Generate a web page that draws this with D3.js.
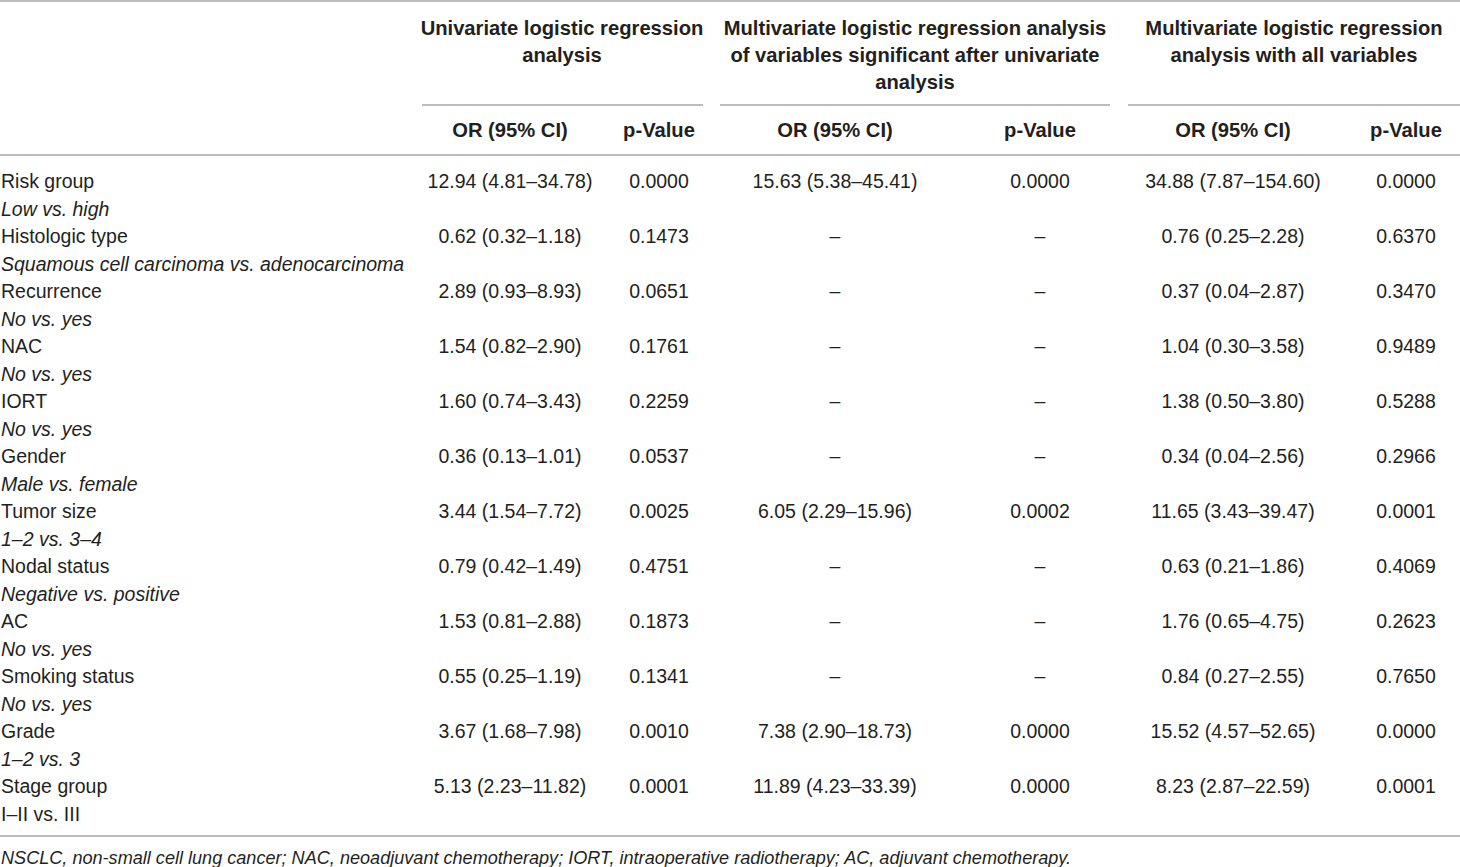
<!DOCTYPE html>
<html>
<head>
<meta charset="utf-8">
<script src="https://cdn.jsdelivr.net/npm/d3@7"></script>
<style>
  html, body { margin: 0; padding: 0; background: #fff; }
  svg text { font-family: "Liberation Sans", Arial, sans-serif; fill: #231f20; }
</style>
</head>
<body>
<svg id="chart" width="1460" height="867"></svg>
<script>
// ---- data ----
const variables = ["Risk group", "Histologic type", "Recurrence", "NAC", "IORT", "Gender",
  "Tumor size", "Nodal status", "AC", "Smoking status", "Grade", "Stage group"];
const comparisons = ["Low vs. high", "Squamous cell carcinoma vs. adenocarcinoma", "No vs. yes",
  "No vs. yes", "No vs. yes", "Male vs. female", "1–2 vs. 3–4", "Negative vs. positive",
  "No vs. yes", "No vs. yes", "1–2 vs. 3", "I–II vs. III"];
const comparisonItalic = [true, true, true, true, true, true, true, true, true, true, true, false];
const uniOR = ["12.94 (4.81–34.78)", "0.62 (0.32–1.18)", "2.89 (0.93–8.93)", "1.54 (0.82–2.90)",
  "1.60 (0.74–3.43)", "0.36 (0.13–1.01)", "3.44 (1.54–7.72)", "0.79 (0.42–1.49)",
  "1.53 (0.81–2.88)", "0.55 (0.25–1.19)", "3.67 (1.68–7.98)", "5.13 (2.23–11.82)"];
const uniP = ["0.0000", "0.1473", "0.0651", "0.1761", "0.2259", "0.0537", "0.0025", "0.4751",
  "0.1873", "0.1341", "0.0010", "0.0001"];
const sigOR = ["15.63 (5.38–45.41)", "–", "–", "–", "–", "–", "6.05 (2.29–15.96)", "–", "–", "–",
  "7.38 (2.90–18.73)", "11.89 (4.23–33.39)"];
const sigP = ["0.0000", "–", "–", "–", "–", "–", "0.0002", "–", "–", "–", "0.0000", "0.0000"];
const allOR = ["34.88 (7.87–154.60)", "0.76 (0.25–2.28)", "0.37 (0.04–2.87)", "1.04 (0.30–3.58)",
  "1.38 (0.50–3.80)", "0.34 (0.04–2.56)", "11.65 (3.43–39.47)", "0.63 (0.21–1.86)",
  "1.76 (0.65–4.75)", "0.84 (0.27–2.55)", "15.52 (4.57–52.65)", "8.23 (2.87–22.59)"];
const allP = ["0.0000", "0.6370", "0.3470", "0.9489", "0.5288", "0.2966", "0.0001", "0.4069",
  "0.2623", "0.7650", "0.0000", "0.0001"];
const groupHeaders = [
  ["Univariate logistic regression", "analysis"],
  ["Multivariate logistic regression analysis", "of variables significant after univariate", "analysis"],
  ["Multivariate logistic regression", "analysis with all variables"]
];
const subHeaders = ["OR (95% CI)", "p-Value"];
const footnote = "NSCLC, non-small cell lung cancer; NAC, neoadjuvant chemotherapy; IORT, intraoperative radiotherapy; AC, adjuvant chemotherapy.";

// ---- layout ----
const W = 1460, H = 867;
const svg = d3.select("#chart");
const fs = 19.5;
const fsHead = 20.2;
const lineColor = "#a6a6a6";

const colKeys = ["uniOR", "uniP", "sigOR", "sigP", "allOR", "allP"];
const colX = d3.scaleOrdinal().domain(colKeys).range([510, 659, 835, 1040, 1233, 1406]);
const groupX = d3.scaleOrdinal().domain([0, 1, 2]).range([562, 915, 1294]);
const groupSpan = [[422, 703], [720, 1110], [1128, 1460]];

const rowY = d3.scaleLinear().domain([0, variables.length - 1]).range([188, 793]);
const subOffset = 28;

// lines
function hline(x1, x2, y) {
  svg.append("line").attr("x1", x1).attr("x2", x2).attr("y1", y).attr("y2", y)
    .attr("stroke", lineColor).attr("stroke-width", 1.5);
}
hline(0, W, 1);
groupSpan.forEach(s => hline(s[0], s[1], 105));
hline(0, W, 155);
hline(0, W, 836);

// group headers
groupHeaders.forEach((lines, g) => {
  lines.forEach((t, k) => {
    svg.append("text").attr("x", groupX(g)).attr("y", 34.5 + 27 * k)
      .attr("text-anchor", "middle").attr("font-size", fsHead).attr("font-weight", "bold").text(t);
  });
});

// sub headers
colKeys.forEach((k, i) => {
  svg.append("text").attr("x", colX(k)).attr("y", 137)
    .attr("text-anchor", "middle").attr("font-size", fsHead).attr("font-weight", "bold")
    .text(subHeaders[i % 2]);
});

// rows
const cols = { uniOR, uniP, sigOR, sigP, allOR, allP };
variables.forEach((v, i) => {
  const y = rowY(i);
  svg.append("text").attr("x", 1).attr("y", y).attr("font-size", fs).text(v);
  svg.append("text").attr("x", 1).attr("y", y + subOffset).attr("font-size", fs)
    .attr("font-style", comparisonItalic[i] ? "italic" : "normal").text(comparisons[i]);
  colKeys.forEach(k => {
    svg.append("text").attr("x", colX(k)).attr("y", y).attr("text-anchor", "middle")
      .attr("font-size", fs).text(cols[k][i]);
  });
});

svg.append("text").attr("x", 1).attr("y", 864).attr("font-size", 18.1).attr("font-style", "italic").text(footnote);
</script>
</body>
</html>
